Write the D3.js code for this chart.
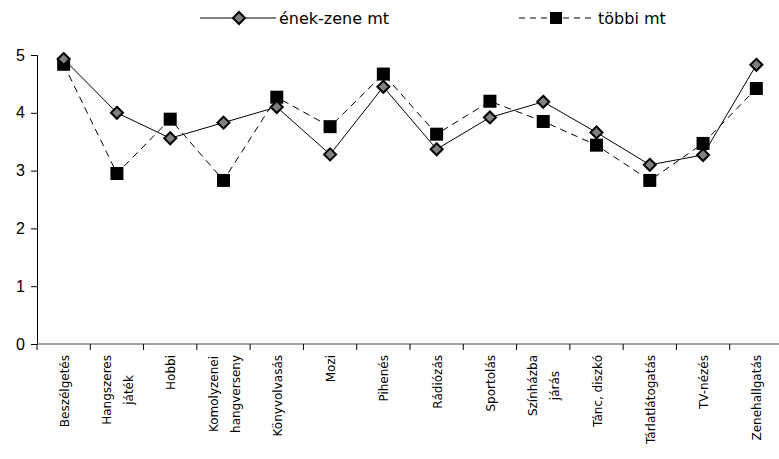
<!DOCTYPE html>
<html>
<head>
<meta charset="utf-8">
<script src="https://cdn.jsdelivr.net/npm/d3@7"></script>
<style>
  body { margin: 0; background: #fff; }
  svg { display: block; font-family: "DejaVu Sans", Verdana, sans-serif; }
</style>
</head>
<body>
<svg width="779" height="459"></svg>
<script>
// categories (multi-line labels split by "|")
var categories = ["Beszélgetés", "Hangszeres|játék", "Hobbi", "Komolyzenei|hangverseny",
  "Könyvolvasás", "Mozi", "Pihenés", "Rádiózás", "Sportolás", "Színházba|járás",
  "Tánc, diszkó", "Tárlatlátogatás", "TV-nézés", "Zenehallgatás"];

var enekZene = [4.93, 4.00, 3.56, 3.83, 4.10, 3.28, 4.45, 3.37, 3.92, 4.19, 3.66, 3.10, 3.27, 4.83];
var tobbi    = [4.84, 2.95, 3.89, 2.83, 4.27, 3.76, 4.67, 3.63, 4.20, 3.85, 3.44, 2.83, 3.47, 4.42];

var yTicks = [0, 1, 2, 3, 4, 5];

var svg = d3.select("svg");

// plot area
var plotLeft = 37, plotRight = 783, plotTop = 55, plotBottom = 344;

var x = d3.scaleBand().domain(categories).range([plotLeft, plotRight]);
var y = d3.scaleLinear().domain([0, 5]).range([plotBottom, plotTop]);

// y axis
var yAxis = svg.append("g")
    .attr("transform", "translate(" + plotLeft + ",0)")
    .call(d3.axisLeft(y).tickValues(yTicks).tickSize(6).tickPadding(6).tickFormat(d3.format("d")));
yAxis.select(".domain").attr("stroke", "#000");
yAxis.selectAll("line").attr("stroke", "#000");
yAxis.selectAll("text").style("font-size", "16px")
    .style("font-family", "\"Liberation Sans\", Arial, sans-serif").attr("fill", "#000");

// x axis: ticks on band boundaries
var xg = svg.append("g");
xg.append("line")
    .attr("x1", plotLeft).attr("x2", 779)
    .attr("y1", plotBottom).attr("y2", plotBottom)
    .attr("stroke", "#808080").attr("stroke-width", 1.5);
var bounds = categories.map(function(c) { return x(c); }).concat([plotRight]);
xg.selectAll("line.tick").data(bounds).enter().append("line")
    .attr("class", "tick")
    .attr("x1", function(d) { return d; }).attr("x2", function(d) { return d; })
    .attr("y1", plotBottom).attr("y2", plotBottom + 6)
    .attr("stroke", "#000");

// rotated category labels
var lineGap = 22;
categories.forEach(function(c) {
  var lines = c.split("|");
  var cx = x(c) + x.bandwidth() / 2;
  var g = svg.append("g");
  var texts = lines.map(function(l) {
    return g.append("text")
      .attr("text-anchor", "middle")
      .style("font-size", "12px")
      .text(l);
  });
  var maxW = d3.max(texts, function(t) { return t.node().getComputedTextLength(); });
  texts.forEach(function(t, i) {
    var lx = cx + (i - (lines.length - 1) / 2) * lineGap + 5;
    var ly = plotBottom + 11 + maxW / 2;
    t.attr("transform", "translate(" + lx + "," + ly + ") rotate(-90)");
  });
});

var px = function(d, i) { return x(categories[i]) + x.bandwidth() / 2; };
var line = d3.line().x(px).y(function(d) { return y(d); });

// series lines
svg.append("path").datum(tobbi)
    .attr("d", line).attr("fill", "none")
    .attr("stroke", "#000").attr("stroke-width", 1)
    .attr("stroke-dasharray", "7,5");
svg.append("path").datum(enekZene)
    .attr("d", line).attr("fill", "none")
    .attr("stroke", "#000").attr("stroke-width", 1);

// markers
var sq = 13;
svg.selectAll("rect.tobbi").data(tobbi).enter().append("rect")
    .attr("class", "tobbi")
    .attr("x", function(d, i) { return px(d, i) - sq / 2; })
    .attr("y", function(d) { return y(d) - sq / 2; })
    .attr("width", sq).attr("height", sq)
    .attr("fill", "#000");

var diamond = "M0,-6L6,0L0,6L-6,0Z";
svg.selectAll("path.enek").data(enekZene).enter().append("path")
    .attr("class", "enek")
    .attr("d", diamond)
    .attr("transform", function(d, i) { return "translate(" + px(d, i) + "," + y(d) + ")"; })
    .attr("fill", "#808080").attr("stroke", "#000").attr("stroke-width", 2);

// legend
var lg = svg.append("g");
lg.append("line").attr("x1", 200).attr("x2", 276).attr("y1", 18).attr("y2", 18)
    .attr("stroke", "#000");
lg.append("path").attr("d", diamond).attr("transform", "translate(239,18)")
    .attr("fill", "#808080").attr("stroke", "#000").attr("stroke-width", 2);
lg.append("text").attr("x", 279).attr("y", 24).style("font-size", "16px").text("ének-zene mt");

lg.append("line").attr("x1", 519).attr("x2", 594).attr("y1", 18).attr("y2", 18)
    .attr("stroke", "#000").attr("stroke-dasharray", "6,5");
lg.append("rect").attr("x", 550).attr("y", 12).attr("width", 12).attr("height", 12)
    .attr("fill", "#000");
lg.append("text").attr("x", 598).attr("y", 24).style("font-size", "16px").text("többi mt");
</script>
</body>
</html>
